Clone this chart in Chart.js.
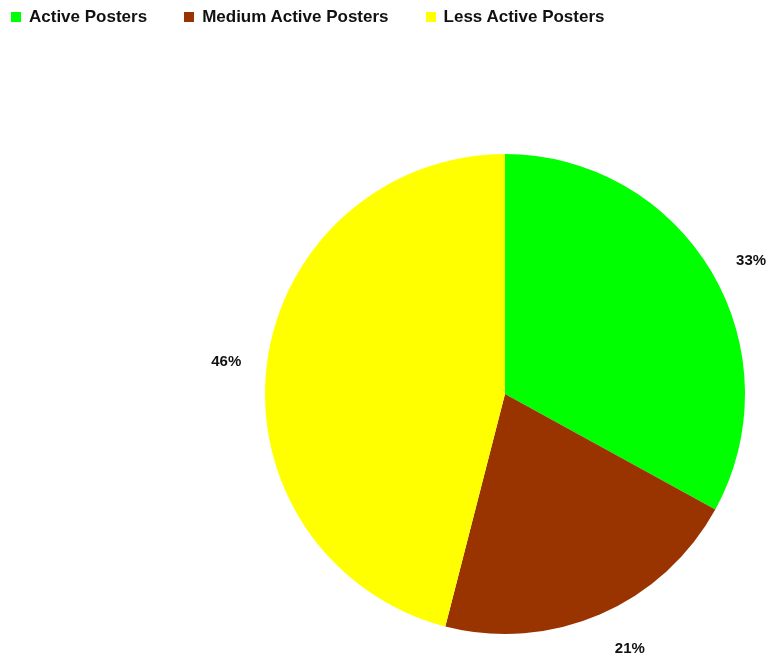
<!DOCTYPE html>
<html>
<head>
<meta charset="utf-8">
<script src="https://cdn.jsdelivr.net/npm/chart.js@4.4.1/dist/chart.umd.min.js"></script>
<style>
  body { margin: 0; background: #fff; }
  #wrap { position: relative; width: 771px; height: 660px; }
  #legend { position: absolute; left: 11px; top: 7px; display: flex; font: bold 17px "Liberation Sans", Arial, sans-serif; color: #111; line-height: 20px; }
  #legend .item { display: flex; align-items: center; margin-right: 37px; }
  #legend .box { width: 10px; height: 10px; margin-right: 8px; }
</style>
</head>
<body>
<div id="wrap">
  <canvas id="myChart" width="771" height="660"></canvas>
  <div id="legend"></div>
</div>
<script>
// Datos del gráfico
const categories = ['Active Posters', 'Medium Active Posters', 'Less Active Posters'];
const shares = [33, 21, 46];
const sliceColors = ['#00ff00', '#993300', '#ffff00'];

// Leyenda en HTML
const legend = document.getElementById('legend');
categories.forEach((name, i) => {
    const item = document.createElement('div');
    item.className = 'item';
    item.innerHTML = '<span class="box" style="background:' + sliceColors[i] + '"></span>' + name;
    legend.appendChild(item);
});

// Etiquetas de porcentaje fuera del pastel
const outsideLabels = {
    id: 'outsideLabels',
    afterDatasetsDraw(chart, args, opts) {
        const ctx = chart.ctx;
        const meta = chart.getDatasetMeta(0);
        ctx.save();
        ctx.font = 'bold 15px "Liberation Sans", Arial, sans-serif';
        ctx.fillStyle = '#111';
        ctx.textAlign = 'center';
        ctx.textBaseline = 'middle';
        meta.data.forEach((arc, i) => {
            const angle = (arc.startAngle + arc.endAngle) / 2 + (opts.nudge[i] || 0);
            const r = arc.outerRadius + opts.offset;
            ctx.fillText(shares[i] + '%', arc.x + Math.cos(angle) * r, arc.y + Math.sin(angle) * r + 3);
        });
        ctx.restore();
    }
};

const ctx = document.getElementById('myChart').getContext('2d');
const myChart = new Chart(ctx, {
    type: 'pie',
    data: {
        labels: categories,
        datasets: [{
            data: shares,
            backgroundColor: sliceColors,
            borderWidth: 0
        }]
    },
    options: {
        responsive: false,
        animation: false,
        layout: { padding: { top: 154, bottom: 26, left: 265, right: 26 } },
        plugins: {
            legend: { display: false },
            tooltip: { enabled: false },
            outsideLabels: { offset: 41, nudge: [0.03, -0.052, 0] }
        }
    },
    plugins: [outsideLabels]
});
</script>
</body>
</html>
